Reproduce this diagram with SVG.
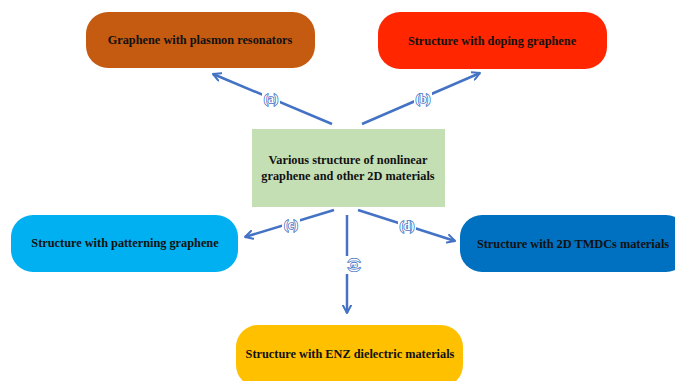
<svg xmlns="http://www.w3.org/2000/svg" width="675" height="381" viewBox="0 0 675 381">
<defs>
<style>
.t{font-family:"Liberation Serif","Times New Roman",serif;font-weight:bold;font-size:12.3px;fill:#111;text-anchor:middle}
.c{stroke:#4472C4;stroke-width:2.5;fill:none;marker-end:url(#ah)}
.l{font-family:"Liberation Serif","Times New Roman",serif;font-weight:bold;font-size:12px;fill:#fff;stroke:#4472C4;stroke-width:1.6;paint-order:stroke;text-anchor:middle}
.lb{fill:#fff}
</style>
<marker id="ah" viewBox="0 0 10 10" refX="8.5" refY="5" markerWidth="4" markerHeight="4" orient="auto" markerUnits="strokeWidth">
<path d="M1,1 L8.5,5 L1,9" fill="none" stroke="#4472C4" stroke-width="2" stroke-linecap="round" stroke-linejoin="round"/>
</marker>
</defs>
<rect width="675" height="381" fill="#fff"/>
<g id="connectors">
<line class="c" x1="332" y1="124" x2="213" y2="74"/>
<line class="c" x1="362" y1="124" x2="480" y2="73"/>
<line class="c" x1="334" y1="210" x2="245" y2="237"/>
<line class="c" x1="358" y1="210" x2="455" y2="241"/>
<line class="c" x1="347" y1="215" x2="347" y2="313"/>
<rect class="lb" x="262" y="92" width="18" height="13"/>
<text class="l" x="271" y="103">(a)</text>
<rect class="lb" x="414" y="92" width="18" height="13"/>
<text class="l" x="423" y="103">(b)</text>
<rect class="lb" x="282" y="219" width="18" height="13"/>
<text class="l" x="291" y="229">(c)</text>
<rect class="lb" x="398" y="219" width="18" height="13"/>
<text class="l" x="407" y="230">(d)</text>
<rect class="lb" x="340" y="256" width="14" height="18"/>
<text class="l" transform="translate(351,265) rotate(90)" x="0" y="0">(e)</text>
</g>
<g id="n1">
<rect x="86" y="12" width="229" height="56" rx="22" fill="#C55A11"/>
<text class="t" x="200" y="44">Graphene with plasmon resonators</text>
</g>
<g id="n2">
<rect x="378" y="12" width="229" height="57" rx="22" fill="#FF2600"/>
<text class="t" x="492" y="45">Structure with doping graphene</text>
</g>
<g id="center">
<rect x="252" y="129" width="193" height="78" fill="#C5DFB5"/>
<text class="t" x="348" y="164">Various structure of nonlinear</text>
<text class="t" x="348" y="180">graphene and other 2D materials</text>
</g>
<g id="n3">
<rect x="11" y="215" width="227" height="57" rx="22" fill="#00B0F0"/>
<text class="t" x="125" y="247">Structure with patterning graphene</text>
</g>
<g id="n4">
<rect x="460" y="215" width="228" height="57" rx="22" fill="#0070C0"/>
<text class="t" x="573" y="248">Structure with 2D TMDCs materials</text>
</g>
<g id="n5">
<rect x="236" y="325" width="227" height="62" rx="22" fill="#FFC000"/>
<text class="t" x="350" y="358">Structure with ENZ dielectric materials</text>
</g>
</svg>
